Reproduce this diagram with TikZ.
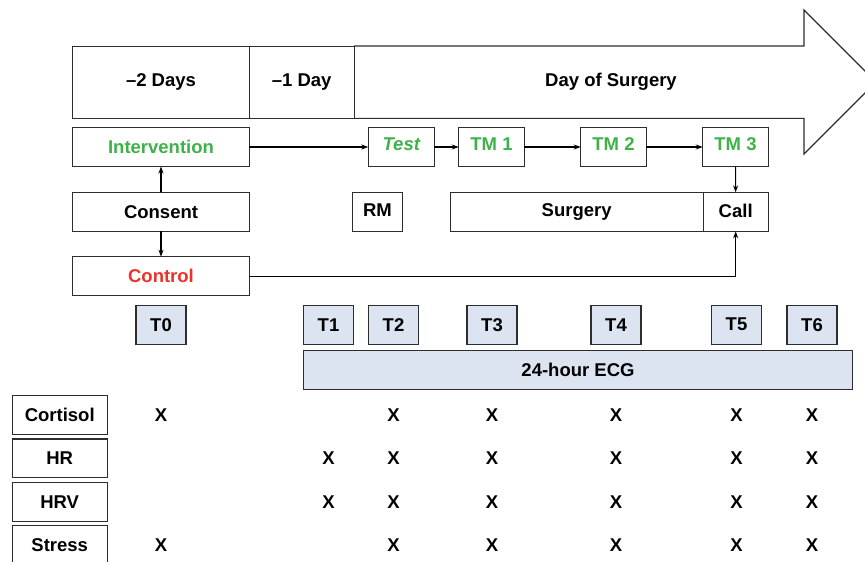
\documentclass[tikz,border=0pt]{standalone}
\usepackage{fontspec}
\setmainfont{Liberation Sans}
\usetikzlibrary{arrows.meta}

\definecolor{tmgreen}{RGB}{62,178,72}
\definecolor{ctrlred}{RGB}{236,50,40}
\definecolor{ecgblue}{RGB}{220,228,242}
\definecolor{boxgray}{RGB}{45,45,45}

\tikzset{
  box/.style={draw=boxgray, line width=1.1pt, inner sep=0pt, outer sep=0pt, minimum height=39},
  tmbox/.style={box, minimum width=65.6, text=tmgreen, text depth=5pt},
  tbox/.style={box, fill=ecgblue, minimum width=50},
  rowbox/.style={box, minimum width=95, minimum height=38.7},
  arr/.style={-{Stealth[length=7pt,width=5pt]}, line width=1.1pt, black}
}

\begin{document}
\begin{tikzpicture}[x=1pt, y=-1pt, every node/.style={font=\bfseries\fontsize{18.5}{22}\selectfont}]
  \useasboundingbox (0,0) rectangle (865,562);
  \clip (0,0) rectangle (865,562);
  % timeline
  \draw[line width=1.1pt, draw=boxgray] (354,46) -- (804,46) -- (804,10) -- (876,82)
    -- (804,154) -- (804,118.3) -- (354,118.3);
  \node[box, minimum width=176.6, minimum height=72.3] (days2) at (161,82.2) {–2 Days};
  \node[box, minimum width=104.7, minimum height=72.3] (days1) at (301.7,82.2) {–1 Day};
  \node (dos) at (611,82.2) {Day of Surgery};
  % groups
  \node[box, minimum width=176.6, text=tmgreen] (interv) at (161,147) {Intervention};
  \node[box, minimum width=176.6] (consent) at (161,211.8) {Consent};
  \node[box, minimum width=176.6, text=ctrlred] (control) at (161,276.3) {Control};
  \node[tmbox, minimum width=66, font=\bfseries\itshape\fontsize{18.5}{22}\selectfont] (test) at (401.3,147) {Test};
  \node[tmbox] (tm1) at (491.5,147) {TM 1};
  \node[tmbox] (tm2) at (613.5,147) {TM 2};
  \node[tmbox] (tm3) at (735.5,147) {TM 3};
  \node[box, minimum width=50.4, text depth=3pt] (rm) at (377.5,211.8) {RM};
  \node[box, minimum width=252.7] (surgery) at (576.7,211.8) {Surgery};
  \node[box, minimum width=65.3, text depth=3pt] (call) at (735.7,211.8) {Call};
  \draw[arr] (consent) -- (interv);
  \draw[arr] (consent) -- (control);
  \draw[arr] (interv) -- (test);
  \draw[arr] (test) -- (tm1);
  \draw[arr] (tm1) -- (tm2);
  \draw[arr] (tm2) -- (tm3);
  \draw[arr] (tm3) -- (call);
  \draw[arr] (control) -| (call);
  % time points
  \node[tbox] (t0) at (161,324.7) {T0};
  \node[tbox] (t1) at (328.5,324.7) {T1};
  \node[tbox] (t2) at (393.5,324.7) {T2};
  \node[tbox] (t3) at (492,324.7) {T3};
  \node[tbox] (t4) at (616,324.7) {T4};
  \node[tbox] (t5) at (736.5,324.7) {T5};
  \node[tbox] (t6) at (812,324.7) {T6};
  \node[tbox, minimum width=549] (ecg) at (578,369.7) {24-hour ECG};
  % measures
  \node[rowbox] (cortisol) at (59.7,415) {Cortisol};
  \node[rowbox] (hr) at (59.7,458.3) {HR};
  \node[rowbox] (hrv) at (59.7,501.7) {HRV};
  \node[rowbox] (stress) at (59.7,545) {Stress};
  \node (c0) at (161,415) {X};
  \node (c2) at (393.5,415) {X};
  \node (c3) at (492,415) {X};
  \node (c4) at (616,415) {X};
  \node (c5) at (736.5,415) {X};
  \node (c6) at (812,415) {X};
  \node (h1) at (328.5,458.3) {X};
  \node (h2) at (393.5,458.3) {X};
  \node (h3) at (492,458.3) {X};
  \node (h4) at (616,458.3) {X};
  \node (h5) at (736.5,458.3) {X};
  \node (h6) at (812,458.3) {X};
  \node (v1) at (328.5,501.7) {X};
  \node (v2) at (393.5,501.7) {X};
  \node (v3) at (492,501.7) {X};
  \node (v4) at (616,501.7) {X};
  \node (v5) at (736.5,501.7) {X};
  \node (v6) at (812,501.7) {X};
  \node (s0) at (161,545) {X};
  \node (s2) at (393.5,545) {X};
  \node (s3) at (492,545) {X};
  \node (s4) at (616,545) {X};
  \node (s5) at (736.5,545) {X};
  \node (s6) at (812,545) {X};
\end{tikzpicture}
\end{document}
